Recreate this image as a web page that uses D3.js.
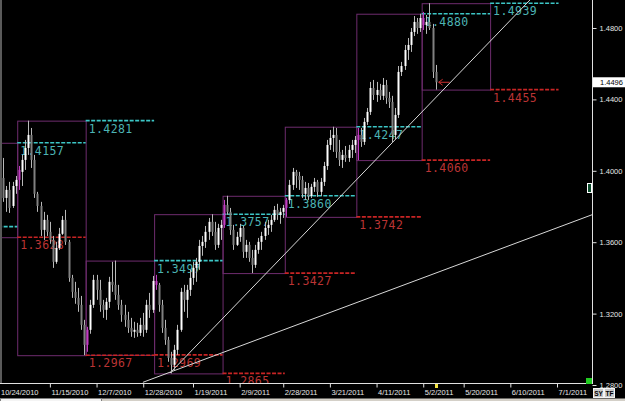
<!DOCTYPE html>
<html>
<head>
<meta charset="utf-8">
<script src="https://cdn.jsdelivr.net/npm/d3@7"></script>
<style>
html, body { margin: 0; padding: 0; background: #000; overflow: hidden; }
svg { display: block; }
</style>
</head>
<body>
<svg id="chart" width="625" height="401"></svg>
<script>
// daily bars [open, high, low, close], bar index starts at firstBar
const firstBar = 1
const ohlc = [
  [1.3904,1.3989,1.3893,1.3971],[1.3960,1.4072,1.3826,1.3848],[1.3848,1.3915,1.3770,1.3893],
  [1.3893,1.3938,1.3764,1.3792],[1.3803,1.3938,1.3792,1.3915],[1.3915,1.3971,1.3871,1.3949],
  // nov
  [1.3949,1.4027,1.3893,1.4005],[1.3994,1.4089,1.3915,1.4061],[1.4061,1.4173,1.4005,1.4128],
  [1.4128,1.4281,1.4089,1.4201],[1.4201,1.4240,1.4016,1.4061],[1.4061,1.4089,1.3848,1.3871],
  [1.3871,1.3882,1.3770,1.3803],[1.3803,1.3826,1.3635,1.3669],[1.3669,1.3770,1.3613,1.3725],
  [1.3725,1.3753,1.3635,1.3658],[1.3658,1.3714,1.3591,1.3613],[1.3613,1.3635,1.3456,1.3490],
  [1.3490,1.3602,1.3479,1.3568],[1.3568,1.3680,1.3557,1.3647],[1.3647,1.3747,1.3641,1.3725],
  [1.3725,1.3781,1.3585,1.3602],[1.3602,1.3613,1.3378,1.3400],[1.3400,1.3417,1.3288,1.3322],
  [1.3322,1.3378,1.3255,1.3288],[1.3288,1.3344,1.3210,1.3249],[1.3249,1.3299,1.3109,1.3137],
  [1.3137,1.3165,1.2967,1.3025],
  // dec
  [1.3025,1.3126,1.2986,1.3109],[1.3109,1.3277,1.3087,1.3249],[1.3249,1.3417,1.3232,1.3389],
  [1.3389,1.3417,1.3277,1.3333],[1.3333,1.3389,1.3210,1.3249],[1.3249,1.3277,1.3176,1.3221],
  [1.3221,1.3288,1.3165,1.3266],[1.3266,1.3406,1.3232,1.3378],[1.3378,1.3490,1.3322,1.3361],
  [1.3361,1.3497,1.3277,1.3305],[1.3305,1.3361,1.3221,1.3249],[1.3249,1.3277,1.3154,1.3193],
  [1.3193,1.3249,1.3126,1.3165],[1.3165,1.3210,1.3092,1.3120],[1.3120,1.3176,1.3070,1.3098],
  [1.3098,1.3154,1.3064,1.3109],[1.3109,1.3148,1.3070,1.3092],[1.3092,1.3176,1.3075,1.3137],
  [1.3137,1.3204,1.3070,1.3109],[1.3109,1.3277,1.3092,1.3249],[1.3249,1.3316,1.3176,1.3221],
  [1.3221,1.3411,1.3204,1.3383],
  // jan
  [1.3383,1.3417,1.3333,1.3361],[1.3361,1.3372,1.3210,1.3249],[1.3249,1.3277,1.3092,1.3120],
  [1.3120,1.3165,1.3025,1.3053],[1.3053,1.3070,1.2930,1.2952],[1.2952,1.2986,1.2865,1.2913],
  [1.2913,1.3025,1.2885,1.2997],[1.2997,1.3137,1.2969,1.3109],[1.3109,1.3344,1.3098,1.3322],
  [1.3322,1.3361,1.3210,1.3277],[1.3277,1.3361,1.3176,1.3333],[1.3333,1.3445,1.3299,1.3400],
  [1.3400,1.3490,1.3361,1.3456],[1.3456,1.3512,1.3378,1.3490],[1.3490,1.3613,1.3445,1.3579],
  [1.3579,1.3635,1.3524,1.3602],[1.3602,1.3691,1.3568,1.3658],[1.3658,1.3736,1.3613,1.3714],
  [1.3714,1.3757,1.3635,1.3658],[1.3658,1.3714,1.3557,1.3585],[1.3585,1.3703,1.3568,1.3680],
  [1.3680,1.3725,1.3613,1.3697],
  // feb
  [1.3697,1.3837,1.3680,1.3809],[1.3809,1.3860,1.3753,1.3770],[1.3770,1.3792,1.3641,1.3669],
  [1.3669,1.3697,1.3557,1.3585],[1.3585,1.3658,1.3579,1.3630],[1.3630,1.3703,1.3602,1.3680],
  [1.3680,1.3691,1.3512,1.3546],[1.3546,1.3613,1.3512,1.3585],[1.3585,1.3602,1.3490,1.3512],
  [1.3512,1.3557,1.3427,1.3473],[1.3473,1.3585,1.3456,1.3557],[1.3557,1.3624,1.3535,1.3602],
  [1.3602,1.3658,1.3557,1.3635],[1.3635,1.3714,1.3613,1.3680],[1.3680,1.3725,1.3641,1.3697],
  [1.3697,1.3753,1.3658,1.3725],[1.3725,1.3803,1.3714,1.3781],[1.3781,1.3815,1.3725,1.3753],
  [1.3753,1.3792,1.3703,1.3770],[1.3770,1.3809,1.3736,1.3792],
  // mar
  [1.3792,1.3848,1.3742,1.3837],[1.3837,1.3949,1.3815,1.3921],[1.3921,1.4016,1.3893,1.3994],
  [1.3994,1.4005,1.3904,1.3971],[1.3971,1.3994,1.3893,1.3949],[1.3949,1.3971,1.3848,1.3871],
  [1.3871,1.3938,1.3837,1.3904],[1.3904,1.3932,1.3837,1.3859],[1.3859,1.3927,1.3848,1.3910],
  [1.3910,1.3960,1.3882,1.3938],[1.3938,1.3949,1.3854,1.3882],[1.3882,1.3960,1.3859,1.3938],
  [1.3938,1.4050,1.3915,1.4027],[1.4027,1.4173,1.4005,1.4145],[1.4145,1.4229,1.4117,1.4184],
  [1.4184,1.4247,1.4106,1.4201],[1.4201,1.4240,1.4072,1.4106],[1.4106,1.4173,1.4027,1.4061],
  [1.4061,1.4117,1.4016,1.4089],[1.4089,1.4139,1.4050,1.4072],[1.4072,1.4145,1.4050,1.4117],
  [1.4117,1.4173,1.4072,1.4145],[1.4145,1.4195,1.4100,1.4173],
  // apr
  [1.4173,1.4240,1.4060,1.4201],[1.4201,1.4240,1.4134,1.4162],[1.4162,1.4296,1.4145,1.4274],
  [1.4274,1.4352,1.4257,1.4330],[1.4330,1.4498,1.4313,1.4464],[1.4464,1.4509,1.4397,1.4425],
  [1.4425,1.4498,1.4386,1.4453],[1.4453,1.4487,1.4397,1.4420],[1.4420,1.4520,1.4397,1.4481],
  [1.4481,1.4509,1.4375,1.4408],[1.4408,1.4442,1.4352,1.4386],[1.4386,1.4420,1.4156,1.4201],
  [1.4201,1.4352,1.4173,1.4313],[1.4313,1.4587,1.4296,1.4554],[1.4554,1.4610,1.4531,1.4587],
  [1.4587,1.4705,1.4565,1.4677],[1.4677,1.4744,1.4621,1.4705],[1.4705,1.4800,1.4666,1.4778],
  [1.4778,1.4867,1.4755,1.4834],[1.4834,1.4856,1.4767,1.4800],[1.4800,1.4880,1.4778,1.4856],
  // may
  [1.4856,1.4890,1.4789,1.4817],[1.4817,1.4873,1.4767,1.4834],[1.4834,1.4939,1.4789,1.4800],
  [1.4800,1.4823,1.4520,1.4554],[1.4554,1.4593,1.4455,1.4496]
]

// monthly ranges (sep .. may), edges in bar index units
const monthEdges = [-34, -12, 6.5, 28.5, 50.5, 72.5, 92.5, 115.5, 136.5, 158.5, 180.5]
const monthHighs = [1.3687, 1.4157, 1.4281, 1.3497, 1.3757, 1.3860, 1.4247, 1.4880, 1.4939]
const monthLows  = [1.2709, 1.3628, 1.2967, 1.2969, 1.2865, 1.3427, 1.3742, 1.4060, 1.4455]

const lastPrice = 1.4496

const trendSteep = [[55.6, 1.2867], [171.3, 1.4957]]
const trendFlat  = [[46.9, 1.2815], [191.3, 1.3754]]

const priceTicks = [1.28, 1.32, 1.36, 1.40, 1.44, 1.48]
const dateTickIdx = [0, 17, 32, 47, 63, 78, 92, 107, 122, 137, 150, 165, 180]
const dateTickLabels = ['10/24/2010', '11/15/2010', '12/7/2010', '12/28/2010', '1/19/2011', '2/9/2011',
  '2/28/2011', '3/21/2011', '4/11/2011', '5/2/2011', '5/20/2011', '6/10/2011', '7/1/2011']

const W = 592, H = 383
const svg = d3.select('#chart')
const x = d3.scaleLinear().domain([0, 180]).range([-3, 557])
const y = d3.scaleLinear().domain([1.28, 1.48]).range([385, 28])

svg.append('rect').attr('width', 625).attr('height', 401).attr('fill', '#000')

svg.append('clipPath').attr('id', 'plot')
    .append('rect').attr('width', W).attr('height', H)

const plot = svg.append('g').attr('clip-path', 'url(#plot)')

// month boxes
const boxes = monthHighs.map((h, k) => ({ x0: monthEdges[k], x1: monthEdges[k + 1], hi: h, lo: monthLows[k] }))
plot.selectAll('rect.box').data(boxes).enter().append('rect')
    .attr('class', 'box')
    .attr('x', d => x(d.x0) + 0.5)
    .attr('y', d => y(d.hi) + 0.5)
    .attr('width', d => x(d.x1) - x(d.x0))
    .attr('height', d => y(d.lo) - y(d.hi))
    .attr('fill', 'none')
    .attr('stroke', '#6e2c6e')
    .attr('stroke-width', 1)

// high / low levels carried over the following month
const levels = []
boxes.forEach((b, k) => {
    levels.push({ x0: monthEdges[k + 1], x1: monthEdges[k + 2], v: b.hi, kind: 'hi' })
    levels.push({ x0: monthEdges[k + 1], x1: monthEdges[k + 2], v: b.lo, kind: 'lo' })
})
plot.selectAll('line.lvl').data(levels).enter().append('line')
    .attr('x1', d => x(d.x0)).attr('x2', d => x(d.x1))
    .attr('y1', d => y(d.v)).attr('y2', d => y(d.v))
    .attr('stroke', d => d.kind === 'hi' ? '#3cc6c6' : '#c82424')
    .attr('stroke-width', 1.6)
    .attr('stroke-dasharray', '4,1.5')
// labels only where the level starts inside the view
plot.selectAll('text.lvl').data(levels.filter(d => x(d.x0) >= 0)).enter().append('text')
    .attr('x', d => x(d.x0) + 3)
    .attr('y', d => y(d.v) + 12)
    .attr('fill', d => d.kind === 'hi' ? '#4cb4b4' : '#bb3434')
    .style('font', '11.5px "DejaVu Sans Mono", monospace')
    .style('letter-spacing', '0.4px')
    .text(d => d.v.toFixed(4))

// trend lines
const line = d3.line().x(d => x(d[0])).y(d => y(d[1]))
;[trendSteep, trendFlat].forEach(t => {
    plot.append('path').attr('d', line(t))
        .attr('stroke', '#d8d8d8').attr('stroke-width', 1).attr('fill', 'none')
})

// candles
const monthStarts = monthEdges.map(e => Math.ceil(e))
const bars = ohlc.map((d, i) => ({ i: i + firstBar, o: d[0], h: d[1], l: d[2], c: d[3] }))
const g = plot.selectAll('g.bar').data(bars).enter().append('g')
g.append('line')
    .attr('x1', d => Math.round(x(d.i)) + 0.5).attr('x2', d => Math.round(x(d.i)) + 0.5)
    .attr('y1', d => y(d.h)).attr('y2', d => y(d.l))
    .attr('stroke', d => monthStarts.includes(d.i) ? '#c23cc2' : '#b8b8b8')
    .attr('stroke-width', 1)
g.append('rect')
    .attr('x', d => Math.round(x(d.i)) - 0.5)
    .attr('width', 2)
    .attr('y', d => y(Math.max(d.o, d.c)))
    .attr('height', d => Math.max(1, Math.abs(y(d.o) - y(d.c))))
    .attr('fill', d => monthStarts.includes(d.i) ? '#c23cc2' : (d.c >= d.o ? '#ffffff' : '#808080'))

// arrow at last price
const last = bars[bars.length - 1]
const ax = x(last.i) + 3, ay = y(lastPrice)
plot.append('path')
    .attr('d', `M${ax + 11},${ay} L${ax},${ay} M${ax + 4},${ay - 3} L${ax},${ay} L${ax + 4},${ay + 3}`)
    .attr('stroke', '#d03030').attr('fill', 'none').attr('stroke-width', 1)

// left frame strip
svg.append('rect').attr('x', 0).attr('y', 0).attr('width', 2).attr('height', H).attr('fill', '#5a5a5a')

// axes
const axisFont = '7.5px "Liberation Sans", Arial, sans-serif'
svg.append('line').attr('x1', W + 0.5).attr('x2', W + 0.5).attr('y1', 0).attr('y2', H + 1)
    .attr('stroke', '#e0e0e0')
svg.append('line').attr('x1', 0).attr('x2', W).attr('y1', H + 0.5).attr('y2', H + 0.5)
    .attr('stroke', '#e0e0e0')

const yAxis = svg.append('g').attr('transform', `translate(${W + 0.5},0)`)
    .call(d3.axisRight(y).tickValues(priceTicks).tickFormat(d3.format('.4f')).tickSize(4).tickPadding(3))
yAxis.select('.domain').remove()
yAxis.selectAll('line').attr('stroke', '#e0e0e0')
yAxis.selectAll('text').attr('fill', '#e6e6e6').style('font', axisFont)

const xAxis = svg.append('g').attr('transform', `translate(0,${H + 0.5})`)
    .call(d3.axisBottom(x).tickValues(dateTickIdx).tickFormat((d, i) => dateTickLabels[i]).tickSize(4))
xAxis.select('.domain').remove()
xAxis.selectAll('line').attr('stroke', '#e0e0e0')
xAxis.selectAll('text').attr('fill', '#e6e6e6').style('font', axisFont)
    .attr('text-anchor', 'start').attr('y', 6)
    .attr('dx', d => Math.max(1, 0.5 - x(d)))

// last price box
svg.append('rect').attr('x', W + 1).attr('y', y(lastPrice) - 5).attr('width', 32).attr('height', 10)
    .attr('fill', '#ffffff')
svg.append('text').attr('x', W + 8).attr('y', y(lastPrice) + 3)
    .attr('fill', '#000').style('font', axisFont).text(lastPrice.toFixed(4))

// markers
svg.append('rect').attr('x', Math.round(x(last.i)) - 1).attr('y', H + 1).attr('width', 3).attr('height', 4)
    .attr('fill', '#f0e040')
svg.append('rect').attr('x', 586).attr('y', 378).attr('width', 6).attr('height', 6).attr('fill', '#22cc22')
svg.append('rect').attr('x', 587.5).attr('y', 183.5).attr('width', 4).attr('height', 9)
    .attr('fill', '#0a4a2a').attr('stroke', '#ffffff').attr('stroke-width', 1)

// SY / TF buttons
;['SY', 'TF'].forEach((t, k) => {
    svg.append('rect').attr('x', 593.5 + k * 11).attr('y', 388.5).attr('width', 10).attr('height', 9)
        .attr('fill', '#c8c8c8').attr('stroke', '#f4f4f4')
    svg.append('text').attr('x', 598.5 + k * 11).attr('y', 396).attr('text-anchor', 'middle')
        .attr('fill', '#000').style('font', 'bold 6.5px "Liberation Sans", Arial, sans-serif').text(t)
})

// window bottom strip
svg.append('rect').attr('x', 0).attr('y', 398.5).attr('width', 625).attr('height', 3).attr('fill', '#d4d0c8')
svg.append('rect').attr('x', 0.5).attr('y', 398.5).attr('width', 101).attr('height', 3)
    .attr('fill', '#f4f4f4').attr('stroke', '#808080')
</script>
</body>
</html>
